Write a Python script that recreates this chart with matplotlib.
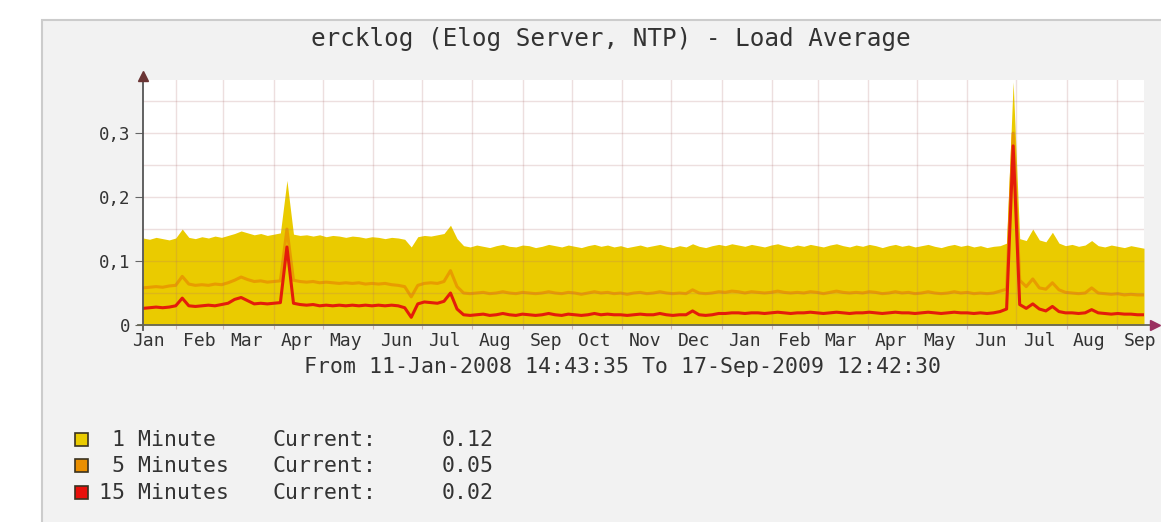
import numpy as np
import pandas as pd
import matplotlib
matplotlib.use('Agg')
import matplotlib.pyplot as plt
import matplotlib.dates as mdates
from matplotlib.patches import Rectangle
from matplotlib.ticker import FuncFormatter

# load averages, one sample every ~4 days from 11-Jan-2008 to 17-Sep-2009
load_1min = [
    0.136, 0.134, 0.137, 0.135, 0.133, 0.136, 0.150,
    0.137, 0.135, 0.138, 0.136, 0.139, 0.137, 0.140,
    0.143, 0.147, 0.144, 0.141, 0.143, 0.140, 0.142, 0.144, 0.226,
    0.142, 0.140, 0.141, 0.139, 0.141, 0.138, 0.140, 0.139, 0.137,
    0.139, 0.138, 0.136, 0.138, 0.137, 0.135, 0.137, 0.136, 0.134,
    0.122, 0.138, 0.140, 0.139, 0.141, 0.143, 0.156, 0.135,
    0.124, 0.122, 0.125, 0.123, 0.121, 0.124, 0.126, 0.123, 0.122, 0.125, 0.124, 0.121,
    0.123, 0.126, 0.124, 0.122, 0.125, 0.123, 0.121, 0.124, 0.126, 0.123, 0.125, 0.122,
    0.124, 0.121, 0.123, 0.125, 0.122, 0.124, 0.126, 0.123, 0.121, 0.124, 0.122, 0.127,
    0.123, 0.121, 0.124, 0.126, 0.124, 0.127, 0.125, 0.123, 0.126, 0.124, 0.122, 0.125,
    0.127, 0.124, 0.122, 0.125, 0.123, 0.126, 0.124, 0.122, 0.125, 0.127, 0.124, 0.122,
    0.125, 0.123, 0.126, 0.124, 0.121, 0.124, 0.126, 0.123, 0.125, 0.122, 0.124, 0.126,
    0.123, 0.121, 0.124, 0.126, 0.123, 0.125, 0.122, 0.124, 0.121, 0.123, 0.124,
    0.128, 0.380, 0.135, 0.132, 0.150, 0.133, 0.130, 0.145, 0.128, 0.124, 0.126,
    0.123, 0.125, 0.132, 0.124, 0.122, 0.125, 0.123, 0.121, 0.124, 0.122, 0.120,
]
load_5min = [
    0.058, 0.059, 0.060, 0.059, 0.061, 0.062, 0.076,
    0.064, 0.062, 0.063, 0.062, 0.064, 0.063, 0.066,
    0.070, 0.075, 0.071, 0.068, 0.069, 0.067, 0.068, 0.069, 0.150,
    0.070, 0.068, 0.067, 0.068, 0.066, 0.067, 0.066, 0.065, 0.066,
    0.065, 0.066, 0.064, 0.065, 0.064, 0.065, 0.063, 0.062, 0.060,
    0.044, 0.062, 0.065, 0.066, 0.065, 0.068, 0.085, 0.060,
    0.050, 0.049, 0.050, 0.051, 0.049, 0.050, 0.052, 0.050, 0.049, 0.051, 0.050, 0.049,
    0.050, 0.052, 0.050, 0.049, 0.051, 0.050, 0.048, 0.050, 0.052, 0.050, 0.051, 0.049,
    0.050, 0.048, 0.050, 0.051, 0.049, 0.050, 0.052, 0.050, 0.049, 0.050, 0.049, 0.055,
    0.050, 0.049, 0.050, 0.052, 0.051, 0.053, 0.052, 0.050, 0.052, 0.051, 0.050, 0.051,
    0.053, 0.051, 0.050, 0.051, 0.050, 0.052, 0.051, 0.049, 0.051, 0.053, 0.051, 0.050,
    0.051, 0.050, 0.052, 0.051, 0.049, 0.050, 0.052, 0.050, 0.051, 0.049, 0.050, 0.052,
    0.050, 0.049, 0.050, 0.052, 0.050, 0.051, 0.049, 0.050, 0.049, 0.050, 0.053,
    0.056, 0.300, 0.070, 0.060, 0.072, 0.058, 0.056, 0.066, 0.055, 0.051, 0.050,
    0.049, 0.050, 0.058, 0.050, 0.049, 0.048, 0.049, 0.047, 0.048, 0.047, 0.047,
]
load_15min = [
    0.026, 0.027, 0.028, 0.027, 0.028, 0.030, 0.042,
    0.030, 0.029, 0.030, 0.031, 0.030, 0.032, 0.034,
    0.040, 0.043, 0.038, 0.033, 0.034, 0.033, 0.034, 0.035, 0.122,
    0.034, 0.032, 0.031, 0.032, 0.030, 0.031, 0.030, 0.031, 0.030,
    0.031, 0.030, 0.031, 0.030, 0.031, 0.030, 0.031, 0.030, 0.027,
    0.012, 0.033, 0.036, 0.035, 0.034, 0.037, 0.050, 0.025,
    0.016, 0.015, 0.016, 0.017, 0.015, 0.016, 0.018, 0.016, 0.015, 0.017, 0.016, 0.015,
    0.016, 0.018, 0.016, 0.015, 0.017, 0.016, 0.015, 0.016, 0.018, 0.016, 0.017, 0.016,
    0.016, 0.015, 0.016, 0.017, 0.016, 0.016, 0.018, 0.016, 0.015, 0.016, 0.016, 0.022,
    0.016, 0.015, 0.016, 0.018, 0.018, 0.019, 0.019, 0.018, 0.019, 0.019, 0.018, 0.019,
    0.020, 0.019, 0.018, 0.019, 0.019, 0.020, 0.019, 0.018, 0.019, 0.020, 0.019, 0.018,
    0.019, 0.019, 0.020, 0.019, 0.018, 0.019, 0.020, 0.019, 0.019, 0.018, 0.019, 0.020,
    0.019, 0.018, 0.019, 0.020, 0.019, 0.019, 0.018, 0.019, 0.018, 0.019, 0.021,
    0.025, 0.280, 0.032, 0.026, 0.033, 0.025, 0.022, 0.029, 0.021, 0.019, 0.019,
    0.018, 0.019, 0.024, 0.019, 0.018, 0.017, 0.018, 0.017, 0.017, 0.016, 0.016,
]
assert len(load_1min) == len(load_5min) == len(load_15min)

start = pd.Timestamp('2008-01-11 14:43:35')
end = pd.Timestamp('2009-09-17 12:42:30')
dates = pd.date_range(start, end, periods=len(load_1min))

legend_names = [' 1 Minute', ' 5 Minutes', '15 Minutes']
legend_current = ['0.12', '0.05', '0.02']
legend_colors = ['#EACB00', '#EA8F00', '#E8100A']

W, H = 1161, 522
mono = 'DejaVu Sans Mono'
txt = '#333333'

fig = plt.figure(figsize=(W / 100, H / 100), dpi=100, facecolor='white')

# grey rrd panel behind everything
fig.patches.append(Rectangle((42 / W, -0.01), 1, (H - 20) / H + 0.01, transform=fig.transFigure,
                             facecolor='#f2f2f2', edgecolor='#cccccc', lw=1.5, zorder=-5))

ax = fig.add_axes([143 / W, (H - 325) / H, (1144 - 143) / W, (325 - 80) / H])
ax.set_zorder(1)
ax.set_facecolor('white')

ax.fill_between(dates, 0, load_1min, color='#EACB00', lw=0, zorder=1)
ax.plot(dates, load_5min, color='#E89C00', lw=2.2, zorder=2)
ax.plot(dates, load_15min, color='#E41C0A', lw=2.2, zorder=3)

ax.set_xlim(start, end)
ax.set_ylim(0, 0.383)

ax.set_yticks([0, 0.1, 0.2, 0.3])
ax.set_yticks([0.05, 0.15, 0.25, 0.35], minor=True)
ax.yaxis.set_major_formatter(FuncFormatter(lambda v, p: '0' if v == 0 else f'{v:.1f}'.replace('.', ',')))
ax.xaxis.set_major_locator(mdates.MonthLocator())
ax.xaxis.set_major_formatter(plt.NullFormatter())
ax.xaxis.set_minor_locator(mdates.MonthLocator(bymonthday=15))
ax.xaxis.set_minor_formatter(mdates.DateFormatter('%b'))

ax.set_axisbelow(False)
ax.grid(True, which='both', axis='y', color='#b07070', alpha=0.22, lw=1)
ax.grid(True, which='major', axis='x', color='#b07070', alpha=0.22, lw=1)

ax.tick_params(axis='y', which='major', length=6, color='#666666', labelsize=12.5,
               labelcolor=txt, pad=3)
ax.tick_params(axis='y', which='minor', length=0)
ax.tick_params(axis='x', which='major', length=3, color='#d0b8b8')
ax.tick_params(axis='x', which='minor', length=0, labelsize=13, labelcolor=txt, pad=5)
for lab in ax.get_xticklabels(minor=True) + ax.get_yticklabels():
    lab.set_family(mono)

for s in ax.spines.values():
    s.set_visible(False)

# axes with arrows
ax.plot([0, 0], [-0.02, 1.0], transform=ax.transAxes, color='#555555', lw=1.3, clip_on=False, zorder=5)
ax.plot([0], [1.015], transform=ax.transAxes, marker='^', ms=7, color='#6b3535', clip_on=False, zorder=5)
ax.plot([-0.005, 1.006], [0, 0], transform=ax.transAxes, color='#666655', lw=1.3, clip_on=False, zorder=5)
ax.plot([1.011], [0], transform=ax.transAxes, marker='>', ms=7, color='#9a3060', clip_on=False, zorder=5)

fig.text(611 / W, 1 - 39 / H, 'ercklog (Elog Server, NTP) - Load Average', family=mono,
         fontsize=17.5, color=txt, ha='center', va='center')
fig.text(622 / W, 1 - 367 / H, 'From 11-Jan-2008 14:43:35 To 17-Sep-2009 12:42:30', family=mono,
         fontsize=15.5, color=txt, ha='center', va='center')

rows_y = [440, 466, 493]
for name, cur, col, yy in zip(legend_names, legend_current, legend_colors, rows_y):
    fig.patches.append(Rectangle((75 / W, 1 - (yy + 6) / H), 13 / W, 13 / H, transform=fig.transFigure,
                                 facecolor=col, edgecolor='#3a3220', lw=1.2))
    fig.text(99 / W, 1 - yy / H, name, family=mono, fontsize=15.5, color=txt, va='center')
    fig.text(273 / W, 1 - yy / H, 'Current:', family=mono, fontsize=15.5, color=txt, va='center')
    fig.text(442 / W, 1 - yy / H, cur, family=mono, fontsize=15.5, color=txt, va='center')

fig.savefig('out.png', dpi=100)
